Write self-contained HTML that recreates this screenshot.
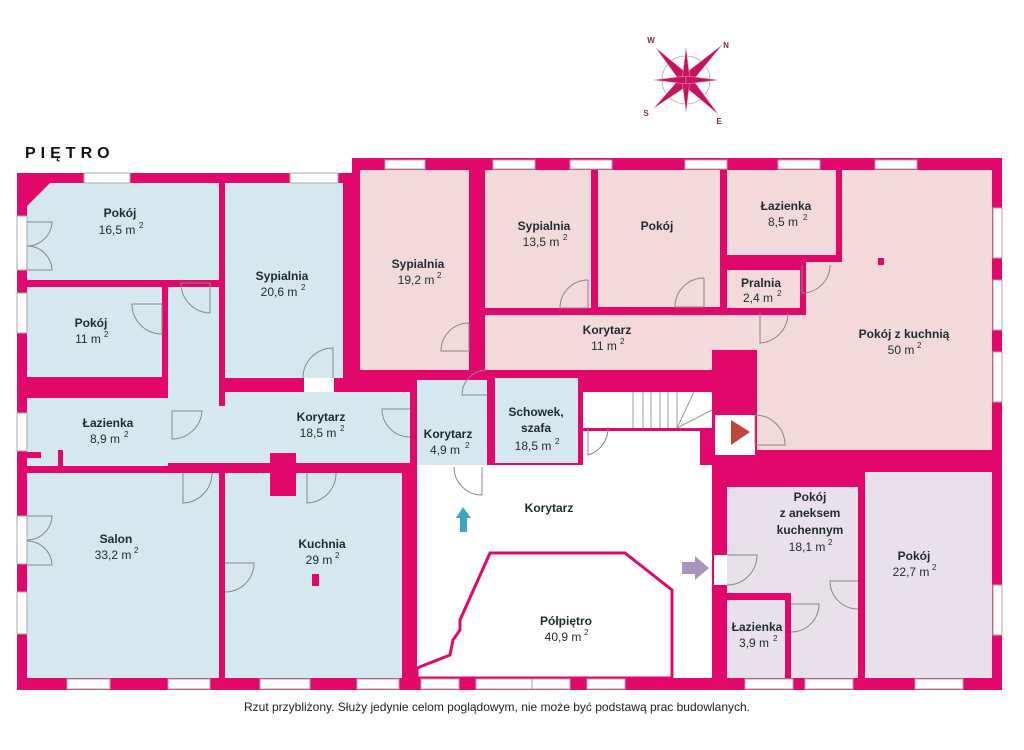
<!DOCTYPE html>
<html><head><meta charset="utf-8"><style>
html,body{margin:0;padding:0;background:#fff;width:1024px;height:750px;overflow:hidden}
svg{display:block}
text{font-family:"Liberation Sans",sans-serif;fill:#1f2a30;text-anchor:middle}
.b{font-weight:bold;font-size:12px}
.n{font-size:12px}
.s{font-size:8px;text-anchor:start}
</style></head><body>
<svg width="1024" height="750" viewBox="0 0 1024 750">
<!-- building mass -->
<g fill="#e2086b">
<rect x="17" y="173" width="395" height="517"/>
<rect x="352" y="158" width="650" height="532"/>
</g>
<!-- blue rooms -->
<g fill="#d6e8ef">
<polygon points="50,183 219,183 219,280 27,280 27,206"/>
<rect x="225" y="183" width="118" height="195"/>
<rect x="27" y="287" width="135" height="90"/>
<rect x="168" y="287" width="51" height="176"/>
<rect x="219" y="406" width="6" height="57"/>
<rect x="225" y="392" width="185" height="71"/>
<rect x="304" y="378" width="30" height="14" fill="#fff"/>
<rect x="27" y="398" width="141" height="68"/>
<rect x="27" y="473" width="192" height="205"/>
<rect x="225" y="473" width="177" height="205"/>
<rect x="417" y="380" width="70" height="85"/>
<rect x="495" y="378" width="83" height="85"/>
</g>
<g fill="#e2086b">
<rect x="27" y="452" width="14" height="6"/><rect x="58" y="450" width="5" height="16"/>
<rect x="270" y="453" width="26" height="43"/>
<rect x="312" y="574" width="7" height="12"/>
</g>
<!-- pink rooms -->
<g fill="#f3d9d9">
<rect x="360" y="170" width="109" height="200"/>
<rect x="485" y="170" width="106" height="138"/>
<rect x="598" y="170" width="122" height="137"/>
<rect x="727" y="170" width="109" height="85"/>
<rect x="727" y="270" width="73" height="38"/>
<rect x="485" y="315" width="227" height="55"/>
<rect x="712" y="315" width="46" height="35"/>
<rect x="842" y="170" width="150" height="280"/>
<rect x="806" y="262" width="40" height="60"/>
<rect x="757" y="315" width="90" height="135"/>
</g>
<rect x="878" y="258" width="6" height="7" fill="#e2086b"/>
<!-- white corridor / stairs -->
<g fill="#fff">
<rect x="583" y="392" width="129" height="36"/>
<rect x="583" y="431" width="117" height="34"/>
<rect x="715" y="415" width="40" height="40"/>
<rect x="417" y="465" width="283" height="213"/>
<rect x="700" y="465" width="12" height="213"/>
</g>
<g stroke="#999" stroke-width="1" fill="none">
<path d="M633 392v36M643 392v36M651 392v36M660 392v36M668 392v36M677 392v36M677 428L694 392M677 428L712 410"/>
</g>
<polygon points="731,420 750,432 731,445" fill="#c0453a"/>
<!-- lavender rooms -->
<g fill="#e8e1ea">
<rect x="727" y="487" width="131" height="191"/>
<rect x="865" y="472" width="127" height="206"/>
</g>
<rect x="785" y="593" width="6" height="85" fill="#e2086b"/>
<rect x="727" y="593" width="64" height="7" fill="#e2086b"/>
<rect x="730" y="600" width="55" height="78" fill="#e8e1ea"/>
<rect x="714" y="555" width="13" height="30" fill="#fff"/>
<!-- polpietro -->
<polygon points="417,668 450,655 453,640 460,630 460,620 490,553 625,553 672,590 672,678 417,678" fill="#fff" stroke="#e2086b" stroke-width="3"/>
<!-- arrows -->
<polygon points="456,518 463,507 471,518 467,518 467,532 460,532 460,518" fill="#3fa4c0"/>
<polygon points="682,562 695,562 695,556 709,568 695,580 695,574 682,574" fill="#a996be"/>
<!-- windows -->
<g fill="#fff" stroke="#aaa" stroke-width="1">
<rect x="84" y="173" width="46" height="10"/><rect x="290" y="173" width="48" height="10"/>
<rect x="385" y="160" width="40" height="9"/><rect x="493" y="160" width="42" height="9"/>
<rect x="570" y="160" width="42" height="9"/><rect x="685" y="160" width="42" height="9"/>
<rect x="778" y="160" width="42" height="9"/><rect x="875" y="160" width="42" height="9"/>
<rect x="67" y="679" width="43" height="10"/><rect x="168" y="679" width="42" height="10"/>
<rect x="260" y="679" width="50" height="10"/><rect x="357" y="679" width="42" height="10"/>
<rect x="421" y="679" width="38" height="10"/><rect x="476" y="679" width="56" height="10"/>
<rect x="532" y="679" width="38" height="10"/><rect x="587" y="679" width="38" height="10"/>
<rect x="745" y="679" width="48" height="10"/><rect x="805" y="679" width="48" height="10"/>
<rect x="915" y="679" width="48" height="10"/>
<rect x="17" y="216" width="10" height="54"/><rect x="17" y="293" width="10" height="40"/>
<rect x="17" y="413" width="10" height="38"/><rect x="17" y="516" width="10" height="48"/>
<rect x="17" y="592" width="10" height="42"/>
<rect x="993" y="208" width="9" height="50"/><rect x="993" y="280" width="9" height="50"/>
<rect x="993" y="352" width="9" height="50"/><rect x="993" y="585" width="9" height="50"/>
</g>
<!-- doors -->
<g stroke="#888" stroke-width="1" fill="none">
<path d="M27 222h25a25 25 0 0 1-25 24M27 270h25a25 25 0 0 0-25-24"/>
<path d="M27 516h25a25 25 0 0 1-25 24M27 565h25a25 25 0 0 0-25-24"/>
<path d="M162 304h-30a30 30 0 0 0 30 30z"/>
<path d="M181 283h29v30a30 30 0 0 1-29-30"/>
<path d="M333 378v-30a30 30 0 0 0-30 30"/>
<path d="M172 411h30a30 30 0 0 1-30 28z"/>
<path d="M410 409h-28a28 28 0 0 0 28 28"/>
<path d="M183 473v30a30 30 0 0 0 29-30"/>
<path d="M307 473v30a30 30 0 0 0 29-30"/>
<path d="M225 563h29a29 29 0 0 1-29 29"/>
<path d="M487 395h-25a25 25 0 0 1 25-25"/>
<path d="M482 467v28a28 28 0 0 1-28-28"/>
<path d="M588 427v28a28 28 0 0 0 20-28"/>
<path d="M469 323v28h-28a28 28 0 0 1 28-28"/>
<path d="M588 280v28h-28a28 28 0 0 1 28-28"/>
<path d="M704 278v29h-29a29 29 0 0 1 29-29"/>
<path d="M802 265v28a28 28 0 0 0 28-28"/>
<path d="M760 313v30a30 30 0 0 0 28-30"/>
<path d="M755 415v30h30a30 30 0 0 0-30-30"/>
<path d="M727 555h30a30 30 0 0 1-30 30"/>
<path d="M858 581h-28a28 28 0 0 0 28 28"/>
<path d="M791 604h28a28 28 0 0 1-28 28"/>
</g>
<!-- compass -->
<g transform="translate(686,80)">
<circle r="24" fill="none" stroke="#aaa" stroke-width="0.8"/>
<g fill="#c8125f" stroke="#e8a0c0" stroke-width="0.5">
<polygon points="-30,-32 -4,4 4,-4"/><polygon points="36,-35 -4,-4 4,4"/>
<polygon points="-32,28 4,4 -4,-4"/><polygon points="32,34 4,-4 -4,4"/>
<polygon points="0,-32 -4,0 4,0"/><polygon points="0,32 -4,0 4,0"/>
<polygon points="-32,0 0,-4 0,4"/><polygon points="32,0 0,-4 0,4"/>
</g>
</g>
<g style="font-size:8px;font-weight:bold" fill="#7a2b55">
<text x="651" y="43" style="fill:#7a2b55">W</text><text x="726" y="48" style="fill:#7a2b55">N</text>
<text x="646" y="116" style="fill:#7a2b55">S</text><text x="719" y="124" style="fill:#7a2b55">E</text>
</g>
<!-- labels -->
<text x="25" y="158" style="text-anchor:start;font-weight:bold;font-size:16px;letter-spacing:5px;fill:#111">PIĘTRO</text>
<text class="b" x="120" y="217">Pokój</text><text class="n" x="117" y="234">16,5 m</text><text class="s" x="139" y="228">2</text>
<text class="b" x="282" y="280">Sypialnia</text><text class="n" x="279" y="296">20,6 m</text><text class="s" x="301" y="290">2</text>
<text class="b" x="91" y="327">Pokój</text><text class="n" x="88" y="343">11 m</text><text class="s" x="104" y="337">2</text>
<text class="b" x="108" y="427">Łazienka</text><text class="n" x="105" y="443">8,9 m</text><text class="s" x="124" y="437">2</text>
<text class="b" x="321" y="421">Korytarz</text><text class="n" x="318" y="437">18,5 m</text><text class="s" x="340" y="431">2</text>
<text class="b" x="116" y="543">Salon</text><text class="n" x="113" y="559">33,2 m</text><text class="s" x="134" y="553">2</text>
<text class="b" x="322" y="548">Kuchnia</text><text class="n" x="319" y="564">29 m</text><text class="s" x="335" y="558">2</text>
<text class="b" x="418" y="268">Sypialnia</text><text class="n" x="416" y="284">19,2 m</text><text class="s" x="437" y="278">2</text>
<text class="b" x="544" y="230">Sypialnia</text><text class="n" x="541" y="246">13,5 m</text><text class="s" x="563" y="240">2</text>
<text class="b" x="657" y="230">Pokój</text>
<text class="b" x="786" y="210">Łazienka</text><text class="n" x="783" y="226">8,5 m</text><text class="s" x="803" y="220">2</text>
<text class="b" x="761" y="287">Pralnia</text><text class="n" x="758" y="302">2,4 m</text><text class="s" x="777" y="296">2</text>
<text class="b" x="607" y="334">Korytarz</text><text class="n" x="604" y="350">11 m</text><text class="s" x="620" y="344">2</text>
<text class="b" x="904" y="338">Pokój z kuchnią</text><text class="n" x="901" y="354">50 m</text><text class="s" x="917" y="348">2</text>
<text class="b" x="448" y="438">Korytarz</text><text class="n" x="445" y="454">4,9 m</text><text class="s" x="465" y="448">2</text>
<text class="b" x="536" y="416">Schowek,</text><text class="b" x="536" y="432">szafa</text><text class="n" x="533" y="450">18,5 m</text><text class="s" x="555" y="444">2</text>
<text class="b" x="549" y="512">Korytarz</text>
<text class="b" x="566" y="625">Półpiętro</text><text class="n" x="563" y="641">40,9 m</text><text class="s" x="584" y="635">2</text>
<text class="b" x="810" y="501">Pokój</text><text class="b" x="810" y="517">z aneksem</text><text class="b" x="810" y="534">kuchennym</text><text class="n" x="807" y="551">18,1 m</text><text class="s" x="828" y="545">2</text>
<text class="b" x="914" y="560">Pokój</text><text class="n" x="911" y="576">22,7 m</text><text class="s" x="932" y="570">2</text>
<text class="b" x="757" y="631">Łazienka</text><text class="n" x="754" y="647">3,9 m</text><text class="s" x="773" y="641">2</text>
<text x="497" y="711" style="font-size:12px;fill:#222">Rzut przybliżony. Służy jedynie celom poglądowym, nie może być podstawą prac budowlanych.</text>
</svg>
</body></html>
